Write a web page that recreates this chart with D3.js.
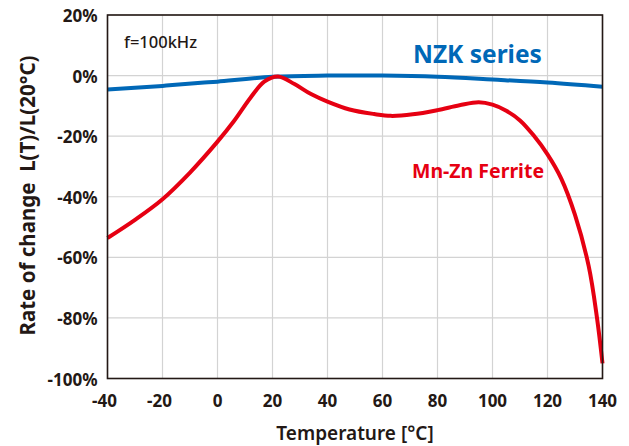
<!DOCTYPE html>
<html>
<head>
<meta charset="utf-8">
<script src="https://cdn.jsdelivr.net/npm/d3@7"></script>
<style>
  body { margin: 0; background: #fff; }
  text { font-family: "Noto Sans", sans-serif; fill: #231815; }
</style>
</head>
<body>
<div id="wrapper"></div>
<script>
// temperature (°C) and rate of change (%)
const nzkTemp = [-40, -20, -6, 0, 20, 40, 60, 80, 100, 120, 140];
const nzkRate = [-4.6, -3.4, -2.4, -2.0, -0.4, 0, 0, -0.4, -1.3, -2.3, -3.7];

const ferriteTemp = [-40, -30, -20, -10, 0, 6, 12, 17, 22, 28, 34, 40, 48, 57, 63, 71, 80, 88, 95, 100,
                     105, 110, 115, 120, 125, 130, 135, 138, 140];
const ferriteRate = [-53.6, -47.6, -40.8, -32, -21.8, -15, -7.3, -2, -0.3, -2.8, -6.1, -8.6, -11.2, -12.7, -13.3, -12.8, -11.4, -9.8, -8.8, -9.6,
                     -11.6, -14.8, -19.8, -26, -34, -46, -63, -80, -95];

const xTicks = [-40, -20, 0, 20, 40, 60, 80, 100, 120, 140];
const yTicks = [20, 0, -20, -40, -60, -80, -100];

const dimension = {
    width: 629,
    height: 446,
    margin: { top: 15, right: 26.5, bottom: 67.5, left: 107.5 }
};
dimension.boundedWidth = dimension.width - dimension.margin.left - dimension.margin.right;
dimension.boundedHeight = dimension.height - dimension.margin.top - dimension.margin.bottom;

const svg = d3.select("#wrapper")
    .append("svg")
    .attr("width", dimension.width)
    .attr("height", dimension.height);

const bounds = svg.append("g")
    .attr("transform", `translate(${dimension.margin.left},${dimension.margin.top})`);

const x = d3.scaleLinear().domain([-40, 140]).range([0, dimension.boundedWidth]);
const y = d3.scaleLinear().domain([-100, 20]).range([dimension.boundedHeight, 0]);

// grid
bounds.append("g")
    .selectAll("line")
    .data(xTicks)
    .enter()
    .append("line")
    .attr("x1", d => x(d)).attr("x2", d => x(d))
    .attr("y1", 0).attr("y2", dimension.boundedHeight)
    .attr("stroke", "#d3d3d3").attr("stroke-width", 1.2);

bounds.append("g")
    .selectAll("line")
    .data(yTicks)
    .enter()
    .append("line")
    .attr("y1", d => y(d)).attr("y2", d => y(d))
    .attr("x1", 0).attr("x2", dimension.boundedWidth)
    .attr("stroke", "#d3d3d3").attr("stroke-width", 1.2);

// curves
const line = d3.line().curve(d3.curveCatmullRom.alpha(0.5));

bounds.append("path")
    .attr("d", line(nzkTemp.map((t, i) => [x(t), y(nzkRate[i])])))
    .attr("fill", "none")
    .attr("stroke", "#0068b7")
    .attr("stroke-width", 4);

bounds.append("path")
    .attr("d", line(ferriteTemp.map((t, i) => [x(t), y(ferriteRate[i])])))
    .attr("fill", "none")
    .attr("stroke", "#e60012")
    .attr("stroke-width", 4);

// frame
bounds.append("rect")
    .attr("width", dimension.boundedWidth)
    .attr("height", dimension.boundedHeight)
    .attr("fill", "none")
    .attr("stroke", "#231815")
    .attr("stroke-width", 1.6);

// tick labels
bounds.append("g")
    .selectAll("text")
    .data(yTicks)
    .enter()
    .append("text")
    .attr("x", -10)
    .attr("y", d => y(d) + 7)
    .attr("text-anchor", "end")
    .style("font-size", "17px")
    .style("font-weight", 700)
    .text(d => d + "%");

bounds.append("g")
    .selectAll("text")
    .data(xTicks)
    .enter()
    .append("text")
    .attr("x", d => x(d) - (d < 0 ? 3 : 0))
    .attr("y", dimension.boundedHeight + 28.5)
    .attr("text-anchor", "middle")
    .style("font-size", "17px")
    .style("font-weight", 700)
    .text(d => d);

// axis titles
svg.append("text")
    .attr("x", dimension.margin.left + dimension.boundedWidth / 2)
    .attr("y", 440)
    .attr("text-anchor", "middle")
    .style("font-size", "19px")
    .style("font-weight", 600)
    .text("Temperature [°C]");

svg.append("text")
    .attr("transform", "translate(34.5,195.5) rotate(-90)")
    .attr("text-anchor", "middle")
    .attr("xml:space", "preserve")
    .style("white-space", "pre")
    .style("font-size", "20.5px")
    .style("font-weight", 700)
    .text("Rate of change  L(T)/L(20°C)");

// annotations
bounds.append("text")
    .attr("x", 16.5)
    .attr("y", 33)
    .style("font-size", "16.5px")
    .style("font-weight", 500)
    .text("f=100kHz");

bounds.append("text")
    .attr("x", 305.5)
    .attr("y", 48)
    .style("font-size", "24.5px")
    .style("font-weight", 700)
    .style("fill", "#0068b7")
    .text("NZK series");

bounds.append("text")
    .attr("x", 304.5)
    .attr("y", 163)
    .style("font-size", "19.5px")
    .style("font-weight", 700)
    .style("fill", "#e60012")
    .text("Mn-Zn Ferrite");
</script>
</body>
</html>
